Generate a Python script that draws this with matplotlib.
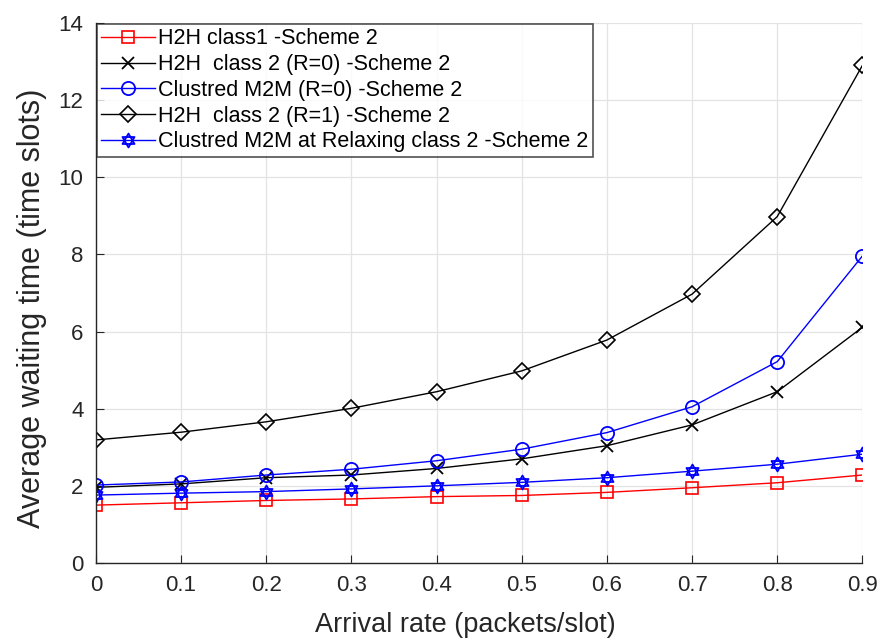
import matplotlib
matplotlib.use("Agg")
import matplotlib.pyplot as plt
from matplotlib.path import Path

plt.rcParams['font.family'] = ['Liberation Sans', 'DejaVu Sans']

arrival_rate = [0, 0.1, 0.2, 0.3, 0.4, 0.5, 0.6, 0.7, 0.8, 0.9]
h2h_class1 = [1.50, 1.56, 1.62, 1.66, 1.72, 1.75, 1.83, 1.95, 2.08, 2.28]
h2h_class2_r0 = [1.96, 2.05, 2.21, 2.28, 2.45, 2.70, 3.04, 3.58, 4.44, 6.11]
m2m_r0 = [2.02, 2.10, 2.28, 2.43, 2.65, 2.95, 3.38, 4.05, 5.22, 7.96]
h2h_class2_r1 = [3.19, 3.39, 3.66, 4.01, 4.44, 4.98, 5.78, 6.97, 8.98, 12.9]
m2m_relaxing = [1.76, 1.81, 1.85, 1.92, 2.00, 2.09, 2.21, 2.38, 2.56, 2.82]

labels = [
    "H2H class1 -Scheme 2",
    "H2H  class 2 (R=0) -Scheme 2",
    "Clustred M2M (R=0) -Scheme 2",
    "H2H  class 2 (R=1) -Scheme 2",
    "Clustred M2M at Relaxing class 2 -Scheme 2",
]
x_ticks = [0, 0.1, 0.2, 0.3, 0.4, 0.5, 0.6, 0.7, 0.8, 0.9]
x_tick_labels = ["0", "0.1", "0.2", "0.3", "0.4", "0.5", "0.6", "0.7", "0.8", "0.9"]
y_ticks = [0, 2, 4, 6, 8, 10, 12, 14]

# hexagram marker: two overlapping triangles
up = [(0, 1), (-0.866, -0.5), (0.866, -0.5), (0, 1)]
down = [(0, -1), (-0.866, 0.5), (0.866, 0.5), (0, -1)]
hexagram = Path(up + down,
                [Path.MOVETO, Path.LINETO, Path.LINETO, Path.CLOSEPOLY] * 2)

fig = plt.figure(figsize=(8.8, 6.39), dpi=100)
ax = fig.add_axes([0.109, 0.119, 0.871, 0.845])

ax.plot(arrival_rate, h2h_class1, color='#ff0000', lw=1, marker='s', ms=8,
        mfc='none', mew=1.2, label=labels[0])
ax.plot(arrival_rate, h2h_class2_r0, color='black', lw=1, marker='x', ms=9,
        mew=1.3, label=labels[1])
ax.plot(arrival_rate, m2m_r0, color='#0000ff', lw=1, marker='o', ms=9.5,
        mfc='none', mew=1.3, label=labels[2])
ax.plot(arrival_rate, h2h_class2_r1, color='black', lw=1, marker='D', ms=8.5,
        mfc='none', mew=1.2, label=labels[3])
ax.plot(arrival_rate, m2m_relaxing, color='#0000ff', lw=1, marker=hexagram, ms=10,
        mfc='none', mew=1.3, label=labels[4])

ax.set_xlim(0, 0.9)
ax.set_ylim(0, 14)
ax.set_xticks(x_ticks)
ax.set_xticklabels(x_tick_labels)
ax.set_yticks(y_ticks)
ax.tick_params(direction='in', length=6, labelsize=16, colors='#262626', pad=9)
ax.grid(True, color='#e3e3e3', lw=0.9)
ax.set_axisbelow(True)
for side in ('top', 'right'):
    ax.spines[side].set_visible(False)
for side in ('left', 'bottom'):
    ax.spines[side].set_color('#262626')
    ax.spines[side].set_linewidth(1.0)

ax.set_xlabel("Arrival rate (packets/slot)", fontsize=19.5, color='#262626',
              labelpad=11, x=0.482)
ax.set_ylabel("Average waiting time (time slots)", fontsize=22, color='#262626',
              labelpad=8, y=0.472)

leg = ax.legend(loc='upper left', fontsize=15.5, frameon=True, fancybox=False,
                edgecolor='#262626', handlelength=2.5, handletextpad=0.15,
                borderaxespad=0.05, labelspacing=0.22, borderpad=0.2)
leg.get_frame().set_linewidth(1.2)

fig.savefig("out.png", dpi=100)
